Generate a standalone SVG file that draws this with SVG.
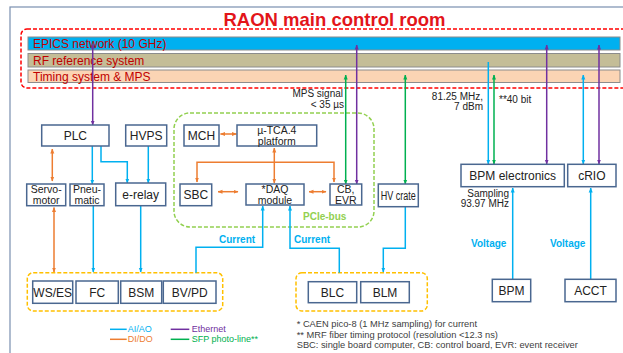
<svg xmlns="http://www.w3.org/2000/svg" width="623" height="353" viewBox="0 0 623 353">
<style>
text{font-family:"Liberation Sans",Arial,sans-serif}
.box{fill:#fff;stroke:#4a6790;stroke-width:1.5}
.bt{font-size:12px;fill:#222;text-anchor:middle}
.bt2{font-size:10.5px;fill:#222;text-anchor:middle}
.bar{stroke:#8c8c8c;stroke-width:1}
.bart{font-size:12px;fill:#c00000}
.c{fill:none;stroke-width:1.5}
.ai{stroke:#00b0f0}
.di{stroke:#ed7d31}
.et{stroke:#7030a0}
.sf{stroke:#00b050}
.lbl{font-size:10px;fill:#222}
.blu{font-size:10px;font-weight:bold;fill:#00b0f0}
.leg{font-size:9px}
.fn{font-size:9.3px;fill:#404040}
</style>
<defs>
<marker id="mA" viewBox="0 0 10 10" refX="9" refY="5" markerWidth="5" markerHeight="5" markerUnits="userSpaceOnUse" orient="auto-start-reverse"><path d="M0,1 L10,5 L0,9z" fill="#00b0f0"/></marker>
<marker id="mD" viewBox="0 0 10 10" refX="9" refY="5" markerWidth="5" markerHeight="5" markerUnits="userSpaceOnUse" orient="auto-start-reverse"><path d="M0,1 L10,5 L0,9z" fill="#ed7d31"/></marker>
<marker id="mE" viewBox="0 0 10 10" refX="9" refY="5" markerWidth="5" markerHeight="5" markerUnits="userSpaceOnUse" orient="auto-start-reverse"><path d="M0,1 L10,5 L0,9z" fill="#7030a0"/></marker>
<marker id="mS" viewBox="0 0 10 10" refX="9" refY="5" markerWidth="5" markerHeight="5" markerUnits="userSpaceOnUse" orient="auto-start-reverse"><path d="M0,1 L10,5 L0,9z" fill="#00b050"/></marker>
</defs>
<rect x="0" y="0" width="623" height="353" fill="#fff"/>
<rect x="10" y="7" width="640" height="360" fill="none" stroke="#7a8fb0" stroke-width="1.2"/>
<text x="334.5" y="26" font-size="18.5" font-weight="bold" fill="#e3151a" text-anchor="middle">RAON main control room</text>
<rect x="21" y="29" width="620" height="59" rx="6" fill="none" stroke="#ff0000" stroke-width="1.5" stroke-dasharray="4 2"/>
<g id="epics"><rect class="bar" x="28" y="37" width="592" height="13" fill="#00b0f0"/><text class="bart" x="33" y="47.5">EPICS network (10 GHz)</text></g>
<g id="rf"><rect class="bar" x="28" y="53.5" width="592" height="13.5" fill="#c4bd97"/><text class="bart" x="33" y="64.5">RF reference system</text></g>
<g id="timing"><rect class="bar" x="28" y="70" width="592" height="12.5" fill="#fbd4b4"/><text class="bart" x="33" y="80.5">Timing system &amp; MPS</text></g>
<rect x="174" y="113" width="200" height="114" rx="16" fill="none" stroke="#92d050" stroke-width="1.5" stroke-dasharray="4 2"/>
<text x="303" y="220" font-size="10" font-weight="bold" fill="#92d050">PCIe-bus</text>
<rect x="27.3" y="272.7" width="195.4" height="38.3" rx="6" fill="none" stroke="#ffc000" stroke-width="1.5" stroke-dasharray="4 2"/>
<rect x="296" y="272.7" width="131.3" height="38.3" rx="6" fill="none" stroke="#ffc000" stroke-width="1.5" stroke-dasharray="4 2"/>
<g id="connectors">
<path class="c et" d="M92.7,44 V125" marker-start="url(#mE)" marker-end="url(#mE)"/>
<path class="c di" d="M52.3,149 V181" marker-start="url(#mD)" marker-end="url(#mD)"/>
<path class="c ai" d="M92.3,146 V184" marker-end="url(#mA)"/>
<path class="c ai" d="M101,146 V161.7 H127.3 V183" marker-end="url(#mA)"/>
<path class="c ai" d="M148.3,146 V183" marker-end="url(#mA)"/>
<path class="c di" d="M220.5,134 H236.5" marker-start="url(#mD)" marker-end="url(#mD)"/>
<path class="c di" d="M274.3,148 V183" marker-start="url(#mD)" marker-end="url(#mD)"/>
<path class="c di" d="M197,182 V162.3 H334 V182" marker-start="url(#mD)" marker-end="url(#mD)"/>
<path class="c di" d="M218,191.7 H238" marker-start="url(#mD)" marker-end="url(#mD)"/>
<path class="c di" d="M309,191.7 H326" marker-start="url(#mD)" marker-end="url(#mD)"/>
<path class="c sf" d="M345.7,75 V184" marker-start="url(#mS)" marker-end="url(#mS)"/>
<path class="c et" d="M356.7,45 V184" marker-start="url(#mE)" marker-end="url(#mE)"/>
<path class="c sf" d="M405.3,75 V184" marker-start="url(#mS)" marker-end="url(#mS)"/>
<path class="c ai" d="M488.3,62 V164" marker-end="url(#mA)"/>
<path class="c sf" d="M494,75 V164" marker-start="url(#mS)" marker-end="url(#mS)"/>
<path class="c et" d="M546.7,45 V164" marker-start="url(#mE)" marker-end="url(#mE)"/>
<path class="c ai" d="M583.3,75 V164" marker-start="url(#mA)" marker-end="url(#mA)"/>
<path class="c et" d="M599,45 V164" marker-start="url(#mE)" marker-end="url(#mE)"/>
<path class="c di" d="M54,207.5 V272" marker-start="url(#mD)" marker-end="url(#mD)"/>
<path class="c ai" d="M93.3,205.7 V272" marker-end="url(#mA)"/>
<path class="c ai" d="M140.7,205.7 V272" marker-end="url(#mA)"/>
<path class="c ai" d="M196,272.7 V247.3 H262.7 V206" marker-end="url(#mA)"/>
<path class="c ai" d="M339.3,272.7 V248.3 H290 V206" marker-end="url(#mA)"/>
<path class="c ai" d="M405.3,206.7 V248.3 H383.3 V272" marker-end="url(#mA)"/>
<path class="c ai" d="M512.7,279.3 V188" marker-end="url(#mA)"/>
<path class="c ai" d="M590.7,279.3 V188" marker-end="url(#mA)"/>
</g>
<text class="lbl" x="343" y="97" text-anchor="end">MPS signal</text>
<text class="lbl" x="344" y="107.5" text-anchor="end">&lt; 35 µs</text>
<text class="lbl" x="483" y="100" text-anchor="end">81.25 MHz,</text>
<text class="lbl" x="483" y="110" text-anchor="end">7 dBm</text>
<text class="lbl" x="499" y="103">**40 bit</text>
<text class="lbl" x="509" y="197.3" text-anchor="end">Sampling</text>
<text class="lbl" x="509" y="207" text-anchor="end">93.97 MHz</text>
<text class="blu" x="219" y="242.7">Current</text>
<text class="blu" x="294" y="242.7">Current</text>
<text class="blu" x="471" y="246.7">Voltage</text>
<text class="blu" x="550" y="246.7">Voltage</text>
<g id="plc"><rect class="box" x="41.7" y="125" width="67.3" height="21"/><text class="bt" x="75.3" y="140">PLC</text></g>
<g id="hvps"><rect class="box" x="125.7" y="125" width="41" height="21"/><text class="bt" x="146.2" y="140">HVPS</text></g>
<g id="mch"><rect class="box" x="184" y="125" width="35" height="21"/><text class="bt" x="201.5" y="140">MCH</text></g>
<g id="utca"><rect class="box" x="237" y="125" width="79.7" height="21"/><text class="bt2" x="276.8" y="134" font-size="10">µ-TCA.4</text><text class="bt2" x="276.8" y="144.5" font-size="10">platform</text></g>
<g id="servo"><rect class="box" x="26.7" y="184" width="39" height="21.7"/><text class="bt2" x="46.2" y="193">Servo-</text><text class="bt2" x="46.2" y="203.5">motor</text></g>
<g id="pneu"><rect class="box" x="70" y="184" width="34" height="21.7"/><text class="bt2" x="87" y="193">Pneu-</text><text class="bt2" x="87" y="203.5">matic</text></g>
<g id="erelay"><rect class="box" x="115.7" y="183" width="50" height="22.7"/><text class="bt" x="140.7" y="198.5">e-relay</text></g>
<g id="sbc"><rect class="box" x="180" y="184" width="31.7" height="21.7"/><text class="bt" x="195.8" y="199">SBC</text></g>
<g id="daq"><rect class="box" x="246" y="184" width="58" height="21"/><text class="bt2" x="275" y="193">*DAQ</text><text class="bt2" x="275" y="203.5">module</text></g>
<g id="cbevr"><rect class="box" x="330" y="184" width="31.7" height="21"/><text class="bt2" x="345.8" y="193">CB,</text><text class="bt2" x="345.8" y="203.5">EVR</text></g>
<g id="hvcrate"><rect class="box" x="378.3" y="184" width="40" height="22.7"/><text class="bt" x="398.3" y="199.5" font-size="11" textLength="35" lengthAdjust="spacingAndGlyphs">HV crate</text></g>
<g id="bpmel"><rect class="box" x="461" y="164.3" width="103.3" height="22.4"/><text class="bt" x="512.7" y="180">BPM electronics</text></g>
<g id="crio"><rect class="box" x="567.7" y="164.3" width="48.3" height="22.4"/><text class="bt" x="591.8" y="180">cRIO</text></g>
<g id="wses"><rect class="box" x="32.7" y="281" width="40" height="22.3"/><text class="bt" x="52.7" y="296.5">WS/ES</text></g>
<g id="fc"><rect class="box" x="76" y="281" width="42.3" height="22.3"/><text class="bt" x="97.2" y="296.5">FC</text></g>
<g id="bsm"><rect class="box" x="120.7" y="281" width="41" height="22.3"/><text class="bt" x="141.2" y="296.5">BSM</text></g>
<g id="bvpd"><rect class="box" x="163.3" y="281" width="52.7" height="22.3"/><text class="bt" x="189.7" y="296.5">BV/PD</text></g>
<g id="blc"><rect class="box" x="308.3" y="281.7" width="48.4" height="21"/><text class="bt" x="332.5" y="296.5">BLC</text></g>
<g id="blm"><rect class="box" x="360.7" y="281.7" width="48.6" height="21"/><text class="bt" x="385" y="296.5">BLM</text></g>
<g id="bpm"><rect class="box" x="492.3" y="279.3" width="38.4" height="22.4"/><text class="bt" x="511.5" y="295">BPM</text></g>
<g id="acct"><rect class="box" x="565" y="279.3" width="51" height="22.4"/><text class="bt" x="590.5" y="295">ACCT</text></g>
<g id="legend">
<line x1="110" y1="329.3" x2="126.7" y2="329.3" class="c ai"/><text class="leg" x="127.7" y="332.3" fill="#00b0f0">AI/AO</text>
<line x1="110" y1="339.3" x2="126.7" y2="339.3" class="c di"/><text class="leg" x="127.7" y="342.3" fill="#ed7d31">DI/DO</text>
<line x1="170.7" y1="329.3" x2="189.3" y2="329.3" class="c et"/><text class="leg" x="191.7" y="332.3" fill="#7030a0">Ethernet</text>
<line x1="170.7" y1="339.3" x2="189.3" y2="339.3" class="c sf"/><text class="leg" x="191.7" y="342.3" fill="#00b050">SFP photo-line**</text>
</g>
<text class="fn" x="296.7" y="327.3">* CAEN pico-8 (1 MHz sampling) for current</text>
<text class="fn" x="296.7" y="337.8">** MRF fiber timing protocol (resolution &lt;12.3 ns)</text>
<text class="fn" x="296.7" y="348.3">SBC: single board computer, CB: control board,  EVR: event receiver</text>
</svg>
